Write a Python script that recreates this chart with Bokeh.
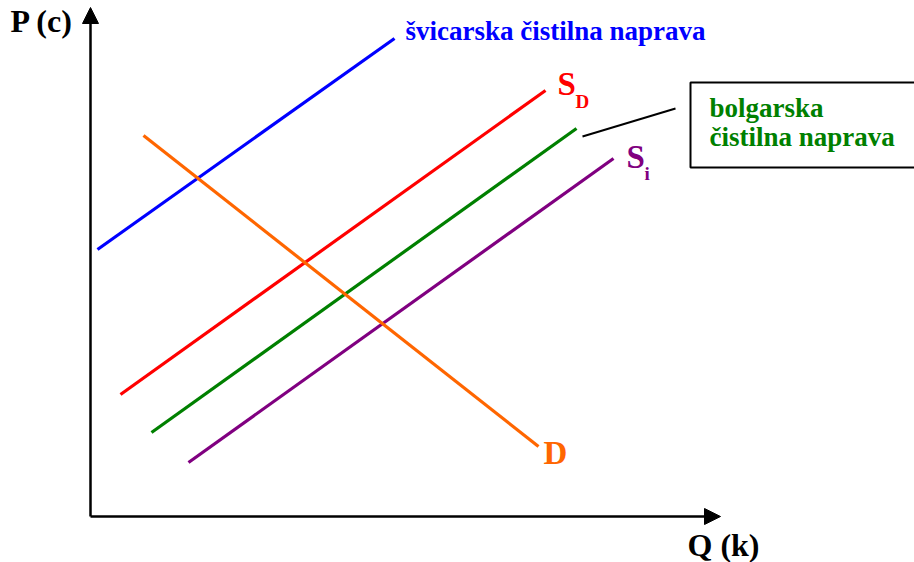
from bokeh.plotting import figure
from bokeh.models import Range1d, Arrow, NormalHead
from bokeh.core.properties import value
from bokeh.embed import file_html
from bokeh.resources import INLINE

# Curves: endpoints in chart units (Q along x, P along y)
swiss_q = [7, 304]
swiss_p = [267, 478]
sd_q = [30, 455]
sd_p = [122, 426]
bulg_q = [61, 486]
bulg_p = [84, 388]
si_q = [98, 523]
si_p = [54, 358]
d_q = [53, 448]
d_p = [381, 70]

# Axes extents
q_axis_end = 630
p_axis_end = 509

# Leader line from bulgarian curve to the label box
leader_q = [492, 585]
leader_p = [380, 408]

# Label box
box_left, box_right, box_bottom, box_top = 600, 900, 349, 434

FONT = value("Liberation Serif")

p = figure(width=914, height=562, output_backend="svg", toolbar_location=None,
           x_range=Range1d(-90, 824), y_range=Range1d(-46, 516),
           min_border=0, outline_line_color=None)
p.axis.visible = False
p.grid.visible = False

p.line(swiss_q, swiss_p, line_color="#0000FF", line_width=3.2)
p.line(sd_q, sd_p, line_color="#FF0000", line_width=3.2)
p.line(bulg_q, bulg_p, line_color="#008000", line_width=3.2)
p.line(si_q, si_p, line_color="#800080", line_width=3.2)
p.line(d_q, d_p, line_color="#FF6600", line_width=3.2)
p.line(leader_q, leader_p, line_color="black", line_width=2)

p.quad(left=[box_left], right=[box_right], bottom=[box_bottom], top=[box_top],
       fill_color="white", line_color="black", line_width=2)

p.add_layout(Arrow(end=NormalHead(size=16, fill_color="black", line_color="black"),
                   x_start=0, y_start=0, x_end=0, y_end=p_axis_end,
                   line_width=2.5, line_color="black"))
p.add_layout(Arrow(end=NormalHead(size=16, fill_color="black", line_color="black"),
                   x_start=0, y_start=0, x_end=q_axis_end, y_end=0,
                   line_width=2.5, line_color="black"))

def label(x, y, txt, color, size):
    p.text(x=[x], y=[y], text=[txt], text_color=color, text_font=FONT,
           text_font_style="bold", text_font_size=value(size),
           text_baseline="alphabetic", text_align="left")

label(-80, 496, "P (c)", "black", "32px")
label(597, -28, "Q (k)", "black", "32px")
label(315, 486, "švicarska čistilna naprava", "#0000FF", "27px")
label(467, 433, "S", "#FF0000", "33px")
label(485, 415.5, "D", "#FF0000", "19px")
label(536, 360, "S", "#800080", "33px")
label(554, 343.5, "i", "#800080", "19px")
label(453, 64, "D", "#FF6600", "33px")
label(619, 409, "bolgarska", "#008000", "27px")
label(619, 380, "čistilna naprava", "#008000", "27px")

open("out.html", "w").write(file_html(p, INLINE))
